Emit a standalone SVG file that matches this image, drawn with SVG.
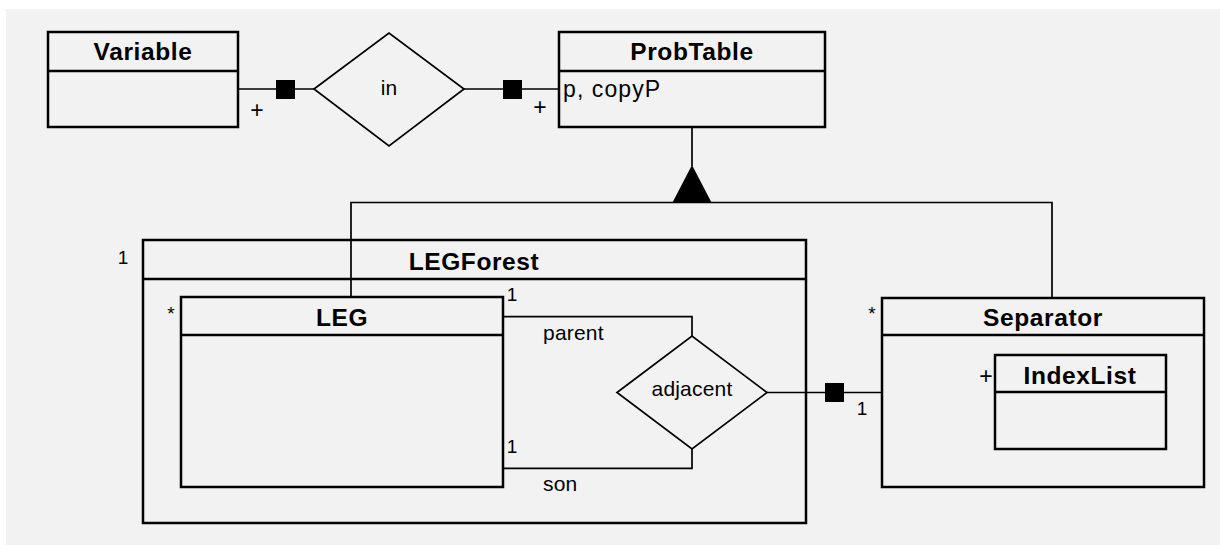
<svg xmlns="http://www.w3.org/2000/svg" width="1220" height="545" viewBox="0 0 1220 545">
  <style>
    .box { fill: none; stroke: #000; stroke-width: 2.5; }
    .ln { fill: none; stroke: #000; stroke-width: 1.7; }
    .rel { fill: none; stroke: #000; stroke-width: 1.7; }
    .sq { fill: #000; }
    text { font-family: "Liberation Sans", Arial, sans-serif; fill: #000; }
    .title { font-weight: bold; font-size: 24.5px; letter-spacing: 0.6px; text-anchor: middle; }
    .attr { font-size: 23px; letter-spacing: 1.1px; }
    .lbl { font-size: 21px; letter-spacing: 0.2px; }
    .mid { text-anchor: middle; }
    .mult { font-size: 19px; text-anchor: middle; }
    .plus { font-size: 23px; text-anchor: middle; }
  </style>

  <rect x="0" y="0" width="1220" height="545" fill="#ffffff"/>
  <rect x="6" y="9" width="1214" height="536" fill="#f2f2f2"/>

  <!-- connectors -->
  <g id="connectors">
    <!-- Variable - in - ProbTable -->
    <line class="ln" x1="238" y1="89" x2="314" y2="89"/>
    <rect class="sq" x="276" y="80" width="19" height="19"/>
    <line class="ln" x1="464" y1="89" x2="559" y2="89"/>
    <rect class="sq" x="503" y="80" width="19" height="19"/>
    <!-- generalization to ProbTable -->
    <line class="ln" x1="692" y1="127" x2="692" y2="166"/>
    <polygon points="692,165 672.5,202.5 711.5,202.5" fill="#000"/>
    <polyline class="ln" points="351,297 351,202.5 1052,202.5 1052,298"/>
    <!-- LEG - adjacent -->
    <polyline class="ln" points="503,316.7 692,316.7 692,336"/>
    <polyline class="ln" points="503,468.3 692,468.3 692,449"/>
    <!-- adjacent - Separator -->
    <line class="ln" x1="767" y1="392.5" x2="882" y2="392.5"/>
    <rect class="sq" x="825" y="383" width="19" height="19"/>

    <text class="plus" x="257" y="118">+</text>
    <text class="plus" x="540" y="115">+</text>
    <text class="mult" x="512" y="301">1</text>
    <text class="mult" x="512" y="453">1</text>
    <text class="lbl" x="543" y="339.5">parent</text>
    <text class="lbl" x="543" y="491">son</text>
    <text class="mult" x="862" y="415">1</text>
  </g>

  <g id="Variable">
    <rect class="box" x="48" y="32" width="190" height="95"/>
    <line class="box" x1="48" y1="71" x2="238" y2="71"/>
    <text class="title" x="143" y="60">Variable</text>
  </g>

  <g id="in">
    <polygon class="rel" points="314,89 389,33 464,89 389,146"/>
    <text class="lbl mid" x="389" y="95">in</text>
  </g>

  <g id="ProbTable">
    <rect class="box" x="559" y="32" width="266" height="95"/>
    <line class="box" x1="559" y1="71" x2="825" y2="71"/>
    <text class="title" x="692" y="60">ProbTable</text>
    <text class="attr" x="563" y="96.5">p, copyP</text>
  </g>

  <g id="LEGForest">
    <rect class="box" x="143" y="240" width="663" height="283"/>
    <line class="box" x1="143" y1="279" x2="806" y2="279"/>
    <text class="title" x="474" y="270">LEGForest</text>
    <text class="mult" x="123" y="263.5">1</text>
  </g>

  <g id="LEG">
    <rect class="box" x="181" y="297" width="322" height="190"/>
    <line class="box" x1="181" y1="335" x2="503" y2="335"/>
    <text class="title" x="342" y="326">LEG</text>
    <text class="mult" x="171" y="320">*</text>
  </g>

  <g id="adjacent">
    <polygon class="rel" points="617,392.5 692,336 767,392.5 692,449"/>
    <text class="lbl mid" x="692" y="396">adjacent</text>
  </g>

  <g id="Separator">
    <rect class="box" x="882" y="298" width="322" height="189"/>
    <line class="box" x1="882" y1="335" x2="1204" y2="335"/>
    <text class="title" x="1043" y="326">Separator</text>
    <text class="mult" x="872" y="320">*</text>
  </g>

  <g id="IndexList">
    <rect class="box" x="995" y="355" width="171" height="94"/>
    <line class="box" x1="995" y1="392" x2="1166" y2="392"/>
    <text class="title" x="1080" y="384">IndexList</text>
    <text class="plus" x="986" y="384">+</text>
  </g>
</svg>
